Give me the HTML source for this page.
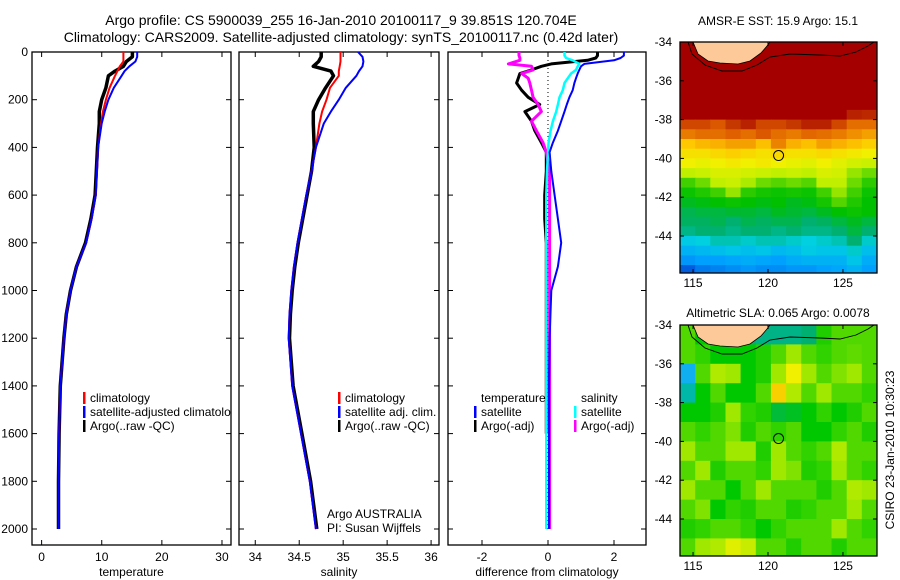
<!DOCTYPE html>
<html><head><meta charset="utf-8"><style>
body{margin:0;background:#fff}
svg{display:block;font-family:"Liberation Sans",sans-serif}
</style></head><body>
<svg id="fig" width="900" height="580" viewBox="0 0 900 580" xmlns="http://www.w3.org/2000/svg">
<rect width="900" height="580" fill="#fff"/>
<text x="341" y="25" font-size="14" text-anchor="middle">Argo profile: CS 5900039_255 16-Jan-2010 20100117_9 39.851S 120.704E</text>
<text x="341" y="42" font-size="14" text-anchor="middle">Climatology: CARS2009. Satellite-adjusted climatology: synTS_20100117.nc (0.42d later)</text>
<text x="778" y="25" font-size="12" text-anchor="middle">AMSR-E SST: 15.9 Argo: 15.1</text>
<text x="778" y="317" font-size="12" text-anchor="middle">Altimetric SLA: 0.065 Argo: 0.0078</text>
<text transform="translate(894,450) rotate(-90)" font-size="12" text-anchor="middle">CSIRO 23-Jan-2010 10:30:23</text>
<g id="g"></g>
</svg>
<script>
// ---- profile data ----
const depths=[0,20,40,60,80,100,150,200,250,300,400,500,600,700,800,900,1000,1100,1200,1400,1600,1800,2000];
const tempClim=[13.6,13.6,13.6,13.0,12.6,12.2,11.3,10.7,10.2,9.9,9.4,9.2,9.0,8.3,7.4,5.8,4.8,4.1,3.7,3.1,2.9,2.8,2.8];
const tempSat=[15.9,15.9,15.6,14.6,13.8,13.3,12.0,11.1,10.5,10.0,9.4,9.2,9.0,8.3,7.4,5.8,4.8,4.1,3.7,3.1,2.9,2.8,2.8];
const tempArgo=[15.1,15.1,14.1,13.6,12.2,11.1,10.7,10.0,9.6,9.6,9.3,9.1,8.9,8.2,7.3,5.8,4.8,4.1,3.7,3.1,2.9,2.8,2.8];
const salClim=[34.97,34.97,34.97,34.96,34.95,34.95,34.85,34.81,34.76,34.73,34.69,34.64,34.58,34.53,34.48,34.44,34.41,34.39,34.38,34.42,34.52,34.62,34.69];
const salSat=[35.17,35.22,35.23,35.22,35.18,35.15,35.03,34.95,34.86,34.78,34.69,34.64,34.58,34.53,34.48,34.44,34.41,34.39,34.38,34.42,34.52,34.62,34.69];
const salArgo=[34.75,34.75,34.72,34.66,34.86,34.89,34.80,34.72,34.66,34.66,34.67,34.64,34.59,34.54,34.49,34.45,34.42,34.40,34.39,34.43,34.53,34.63,34.70];
const diffDepths=[0,15,25,35,50,60,75,90,110,130,160,190,220,250,290,330,380,420,500,600,700,800,900,1000,1200,1400,1600,1800,2000];
const diffTSat=[2.3,2.3,2.2,2.0,1.1,1.0,0.95,0.9,0.85,0.8,0.75,0.65,0.57,0.5,0.4,0.3,0.15,0.05,0.1,0.2,0.3,0.4,0.3,0.1,0.05,0.03,0.03,0.03,0.03];
const diffTArgo=[1.5,1.5,1.45,1.2,0.1,-0.2,-0.5,-0.85,-0.9,-0.95,-0.8,-0.6,-0.25,-0.7,-0.5,-0.4,-0.2,-0.05,-0.05,-0.1,-0.1,-0.05,-0.05,-0.05,-0.05,-0.05,-0.05];
const diffSSat=[0.5,0.5,0.55,0.75,0.95,0.9,0.85,0.7,0.6,0.5,0.45,0.35,0.3,0.25,0.15,0.08,0.02,0,-0.03,-0.05,-0.05,-0.05,-0.05,-0.05,-0.05,-0.05,-0.05,-0.05,-0.05];
const diffSArgo=[-0.88,-0.88,-0.85,-0.85,-1.2,-0.5,-0.45,-0.8,-0.6,-0.55,-0.5,-0.45,-0.3,-0.2,-0.5,-0.35,-0.15,-0.05,0.05,0.05,0.05,0.05,0.05,0.05,0.05,0.05,0.05,0.05,0.05];
const depthTicks=[0,200,400,600,800,1000,1200,1400,1600,1800,2000];
const tempTicks=[0,10,20,30];
const salTicks=["34","34.5","35","35.5","36"];
const diffTicks=[-2,0,2];
// ---- map data ----
const sstGrid=[
[19,19,19,19,19,19,19,19,19,19,19,19,19],[19,19,19,19,19,19,19,19,19,19,19,19,19],
[19,19,19,19,19,19,19,19,19,19,19,19,19],[19,19,19,19,19,19,19,19,19,19,19,19,19],
[19,19,19,19,19,19,19,19,19,19,19,19,19],[19,19,19,19,19,19,19,19,19,19,19,19,19],
[19,19,19,19,19,19,19,19,19,19,19,19,19],[19,19,19,19,19,19,19,19,19,19,19,18.5,18.4],
[18,18,17.8,18.2,18.5,18,18,18.2,18.5,18.5,18,17.5,17.5],
[17.3,17.5,17.5,17.7,17.5,17.8,17.5,17.3,17.6,17.5,17.3,17,16.8],
[16.3,16.5,16.6,16.8,16.8,16.4,17.2,16.6,16.4,16.8,16.6,16.4,16.2],
[16,16,16.1,16.2,16.1,16,16.1,16,16,16.1,16,15.9,15.8],
[15.8,15.7,15.8,15.9,15.8,15.9,15.8,15.7,15.6,15.8,15.6,15.4,15.3],
[15.2,15.3,15.5,15.5,15.4,15.3,15.2,15.3,15.2,15.5,15.4,15,14.8],
[14.6,14.8,15.2,15.3,15.1,14.8,14.7,14.8,14.7,15.2,15.2,14.8,14.4],
[14.1,14.3,14.6,15,14.4,14.2,14.1,14.2,14.1,14.6,15,14.6,14.1],
[13.8,13.9,14,14.1,14,13.9,14,13.8,13.9,14.2,14.7,14.3,14],
[13.5,13.6,13.6,13.7,13.7,13.6,13.8,13.7,13.6,13.8,14,14.1,14],
[13.4,13.4,13.5,13.3,13.5,13.4,13.5,13.5,13.3,13.4,13.6,13.8,13.6],
[13.2,13.3,13.3,13.2,13.3,13.3,13.2,13.3,13.2,13.2,13.3,13.6,13.3],
[12.7,12.8,13,13,12.9,13,13,12.9,12.8,12.9,13,13.3,12.9],
[12.3,12.4,12.5,12.6,12.5,12.6,12.4,12.5,12.7,12.6,12.6,12.9,12.5],
[11.9,12,12,12.1,12.2,12.1,12,12.2,12.3,12.3,12.3,12.6,12.2],
[11.3,11.6,11.7,11.8,11.9,11.8,11.8,11.9,11.9,12,12.1,12.3,12]];
const slaGrid=[
[0.05,0,-0.1,-0.1,-0.1,-0.12,-0.12,-0.12,-0.1,0.02,0.05,0.05,0.05],
[0.05,0.03,0,0,0,0.02,0.05,0.1,0.05,0.03,0.05,0.06,0.05],
[-0.25,0.05,0.12,0.1,0,0.02,0.1,0.2,0.1,0.05,0.08,0.1,0.05],
[-0.15,0,0.05,0,0,0.05,0.25,0.12,0.05,0.1,0.05,0.05,0.03],
[0,0,0.02,0.1,0.03,0.02,-0.05,-0.03,0,0.03,0,0.02,0.05],
[0.05,0.03,0.05,0.08,0.02,0.05,0.03,0.05,0,0,0.03,0.05,0.02],
[0.1,0.05,0.05,0.1,0.1,0.02,0.1,0.05,0.03,0.05,0.12,0.05,0.05],
[0.05,0.1,0.02,0.05,0.05,0.03,0.1,0.08,0.02,0.03,0.1,0.05,0.03],
[0.1,0.05,0.05,0,0.05,0.1,0.05,0.05,0.05,0.02,0.05,0.12,0.1],
[0.05,0.08,0,0.03,0.02,0.05,0.05,0.02,0.03,0.05,0.05,0.1,0.05],
[0.02,0.03,0.05,0.05,0.03,0,0.03,0.05,0.05,0.05,0.1,0.05,0.03],
[0.05,0.1,0.12,0.18,0.15,0.05,0.05,0.02,0.05,0.05,0.02,0.05,0.05]];
const latTicks=[-34,-36,-38,-40,-42,-44];
const lonTicks=[115,120,125];
const argoLon=120.704, argoLat=-39.851;

const NS="http://www.w3.org/2000/svg";
const G=document.getElementById('g');
function el(t,a,p){const e=document.createElementNS(NS,t);for(const k in a)e.setAttribute(k,a[k]);(p||G).appendChild(e);return e;}
function txt(s,a,p){const e=el('text',a,p);e.textContent=s;return e;}
const yD=d=>52+d*0.2385;
const Y0=52,Y1=545;
const panels=[
 {x0:32,x1:231,v0:-1.6,v1:31.5,name:'temperature'},
 {x0:239,x1:439,v0:33.815,v1:36.09,name:'salinity'},
 {x0:448,x1:646,v0:-3.03,v1:2.97,name:'difference from climatology'}];
function sx(p,v){return p.x0+(v-p.v0)/(p.v1-p.v0)*(p.x1-p.x0);}
panels.forEach((p,i)=>{
 const fr=el('rect',{x:p.x0,y:Y0,width:p.x1-p.x0,height:Y1-Y0,fill:'none',stroke:'#000','stroke-width':1.3});
 
 
 depthTicks.forEach(d=>{
  el('line',{x1:p.x0,x2:p.x0+5,y1:yD(d),y2:yD(d),stroke:'#000'});
  el('line',{x1:p.x1,x2:p.x1-5,y1:yD(d),y2:yD(d),stroke:'#000'});
 });
 const t=txt(p.name,{x:(p.x0+p.x1)/2,y:576,'font-size':12,'text-anchor':'middle'});
 
 
});
depthTicks.forEach(d=>{
 const t=txt(String(d),{x:28,y:yD(d)+4,'font-size':12,'text-anchor':'end'});
 
 
});
function xticks(p,vals){vals.forEach(v=>{const x=sx(p,+v);
 el('line',{x1:x,x2:x,y1:Y0,y2:Y0+5,stroke:'#000'});el('line',{x1:x,x2:x,y1:Y1,y2:Y1-5,stroke:'#000'});
 const t=txt(String(v),{x:x,y:561,'font-size':12,'text-anchor':'middle'});
 
 });}
xticks(panels[0],tempTicks);xticks(panels[1],salTicks);xticks(panels[2],diffTicks);
function series(p,ds,vals,color,w,name){
 let pts=[];for(let i=0;i<vals.length&&i<ds.length;i++)pts.push(sx(p,vals[i]).toFixed(1)+','+yD(ds[i]).toFixed(1));
 const l=el('polyline',{points:pts.join(' '),fill:'none',stroke:color,'stroke-width':w,'stroke-linejoin':'round'});
 
 
}
// zero dotted line
const z=sx(panels[2],0);
el('line',{x1:z,x2:z,y1:Y0,y2:yD(2000),stroke:'#000','stroke-dasharray':'1,3'});
series(panels[0],depths,tempArgo,'#000',3.5,'temp-argo-line');
series(panels[0],depths,tempClim,'#f00',2,'temp-climatology-line');
series(panels[0],depths,tempSat,'#00f',2,'temp-satellite-line');
series(panels[1],depths,salArgo,'#000',3.5,'sal-argo-line');
series(panels[1],depths,salClim,'#f00',2,'sal-climatology-line');
series(panels[1],depths,salSat,'#00f',2,'sal-satellite-line');
series(panels[2],diffDepths,diffTArgo,'#000',3,'diff-temp-argo-line');
series(panels[2],diffDepths,diffSArgo,'#f0f',3,'diff-sal-argo-line');
series(panels[2],diffDepths,diffSSat,'#0ff',2.5,'diff-sal-satellite-line');
series(panels[2],diffDepths,diffTSat,'#00f',2,'diff-temp-satellite-line');
// legends
const clip=el('clipPath',{id:'c1'});el('rect',{x:32,y:380,width:199,height:60},clip);
function leg(x,y,color,label,name,clipId){
 const g=el('g',clipId?{'clip-path':'url(#'+clipId+')'}:{});
 
 
 if(color)el('rect',{x:x,y:y-10,width:2.5,height:12,fill:color},g);
 txt(label,{x:x+7,y:y,'font-size':12},g);
}
leg(83,402,'#f00','climatology','legend-climatology','c1');
leg(83,416,'#00f','satellite-adjusted climatology','legend-satellite','c1');
leg(83,430,'#000','Argo(..raw -QC)','legend-argo','c1');
leg(338,402,'#f00','climatology','legend-sal-climatology');
leg(338,416,'#00f','satellite adj. clim.','legend-sal-satellite');
leg(338,430,'#000','Argo(..raw -QC)','legend-sal-argo');
leg(474,402,null,'temperature','legend-temperature-heading');
leg(474,416,'#00f','satellite','legend-diff-temp-satellite');
leg(474,430,'#000','Argo(-adj)','legend-diff-temp-argo');
leg(574,402,null,'salinity','legend-salinity-heading');
leg(574,416,'#0ff','satellite','legend-diff-sal-satellite');
leg(574,430,'#f0f','Argo(-adj)','legend-diff-sal-argo');
leg(320,518,null,'Argo AUSTRALIA','argo-australia-label');
leg(320,532,null,'PI: Susan Wijffels','pi-label');

// maps
function lerpCol(stops,v){
 if(v<=stops[0][0])return stops[0][1];
 for(let i=1;i<stops.length;i++)if(v<=stops[i][0]){const a=stops[i-1],b=stops[i],t=(v-a[0])/(b[0]-a[0]);
  return 'rgb('+[0,1,2].map(k=>Math.round(a[1][k]+(b[1][k]-a[1][k])*t)).join(',')+')';}
 const l=stops[stops.length-1][1];return 'rgb('+l.join(',')+')';}
const sstStops=[[11,[0,64,208]],[12,[0,160,255]],[12.8,[0,208,224]],[13.3,[0,176,112]],[14,[0,192,0]],[14.6,[64,208,0]],[15.2,[192,240,0]],[15.8,[240,240,0]],[16.3,[255,200,0]],[17,[240,144,0]],[17.7,[224,96,0]],[18.3,[192,48,0]],[19,[165,0,0]]];
const slaStops=[[-0.3,[32,160,255]],[-0.2,[0,192,224]],[-0.1,[0,176,112]],[0,[0,200,0]],[0.1,[160,232,0]],[0.2,[240,240,0]],[0.3,[255,176,0]]];
function map(top,grid,stops,name){
 const M={x0:680,x1:877,y0:top,lon0:114.13,lon1:127.27,lat0:-34,pxDeg:19.4};
 const y1=top+231;
 const mx=l=>M.x0+(l-M.lon0)/(M.lon1-M.lon0)*(M.x1-M.x0);
 const my=l=>top+(M.lat0-l)*M.pxDeg;
 const cp=el('clipPath',{id:'cp'+name});el('rect',{x:M.x0,y:top,width:M.x1-M.x0,height:231},cp);
 const g=el('g',{'clip-path':'url(#cp'+name+')'});
 
 
 const nr=grid.length,nc=grid[0].length,dlat=12/nr,dlon=(M.lon1-M.lon0)/nc;
 grid.forEach((row,r)=>row.forEach((v,c)=>{
  const x=mx(M.lon0+c*dlon),y=my(-34-r*dlat);
  const cell=el('rect',{x:x.toFixed(1),y:y.toFixed(1),width:(mx(M.lon0+(c+1)*dlon)-x+0.6).toFixed(1),height:(dlat*M.pxDeg+0.6).toFixed(1),fill:lerpCol(stops,v)},g);
  
  
 }));
 // land & coastline
 const land=el('polygon',{points:[[693,0],[698,12],[708,19],[720,21],[738,22],[750,19],[761,11],[767,4],[770,0]].map(p=>p[0]+','+(p[1]+top)).join(' '),fill:'#fdc998',stroke:'#000','stroke-width':0.8},g);
 
 
 el('polyline',{points:[[688,0],[692,12],[705,23],[722,29],[742,29],[757,23],[770,15],[790,12],[820,13],[840,14],[856,10],[868,4],[874,0]].map(p=>p[0]+','+(p[1]+top)).join(' '),fill:'none',stroke:'#000','stroke-width':0.9},g);
 const fr=el('rect',{x:M.x0,y:top,width:M.x1-M.x0,height:231,fill:'none',stroke:'#000','stroke-width':1.3});
 
 
 latTicks.forEach(l=>{const y=my(l);
  el('line',{x1:M.x0,x2:M.x0+4,y1:y,y2:y,stroke:'#000'});el('line',{x1:M.x1,x2:M.x1-4,y1:y,y2:y,stroke:'#000'});
  const t=txt(String(l),{x:672,y:y+4,'font-size':12,'text-anchor':'end'});
  
  });
 lonTicks.forEach(l=>{const x=mx(l);
  el('line',{x1:x,x2:x,y1:top,y2:top+4,stroke:'#000'});el('line',{x1:x,x2:x,y1:y1,y2:y1-4,stroke:'#000'});
  const t=txt(String(l),{x:x,y:y1+14,'font-size':12,'text-anchor':'middle'});
  
  });
 const c=el('circle',{cx:mx(argoLon),cy:my(argoLat),r:5,fill:'none',stroke:'#000','stroke-width':1});
 
 
}
map(42,sstGrid,sstStops,'sst-map');
map(325,slaGrid,slaStops,'sla-map');
</script>
</body></html>
